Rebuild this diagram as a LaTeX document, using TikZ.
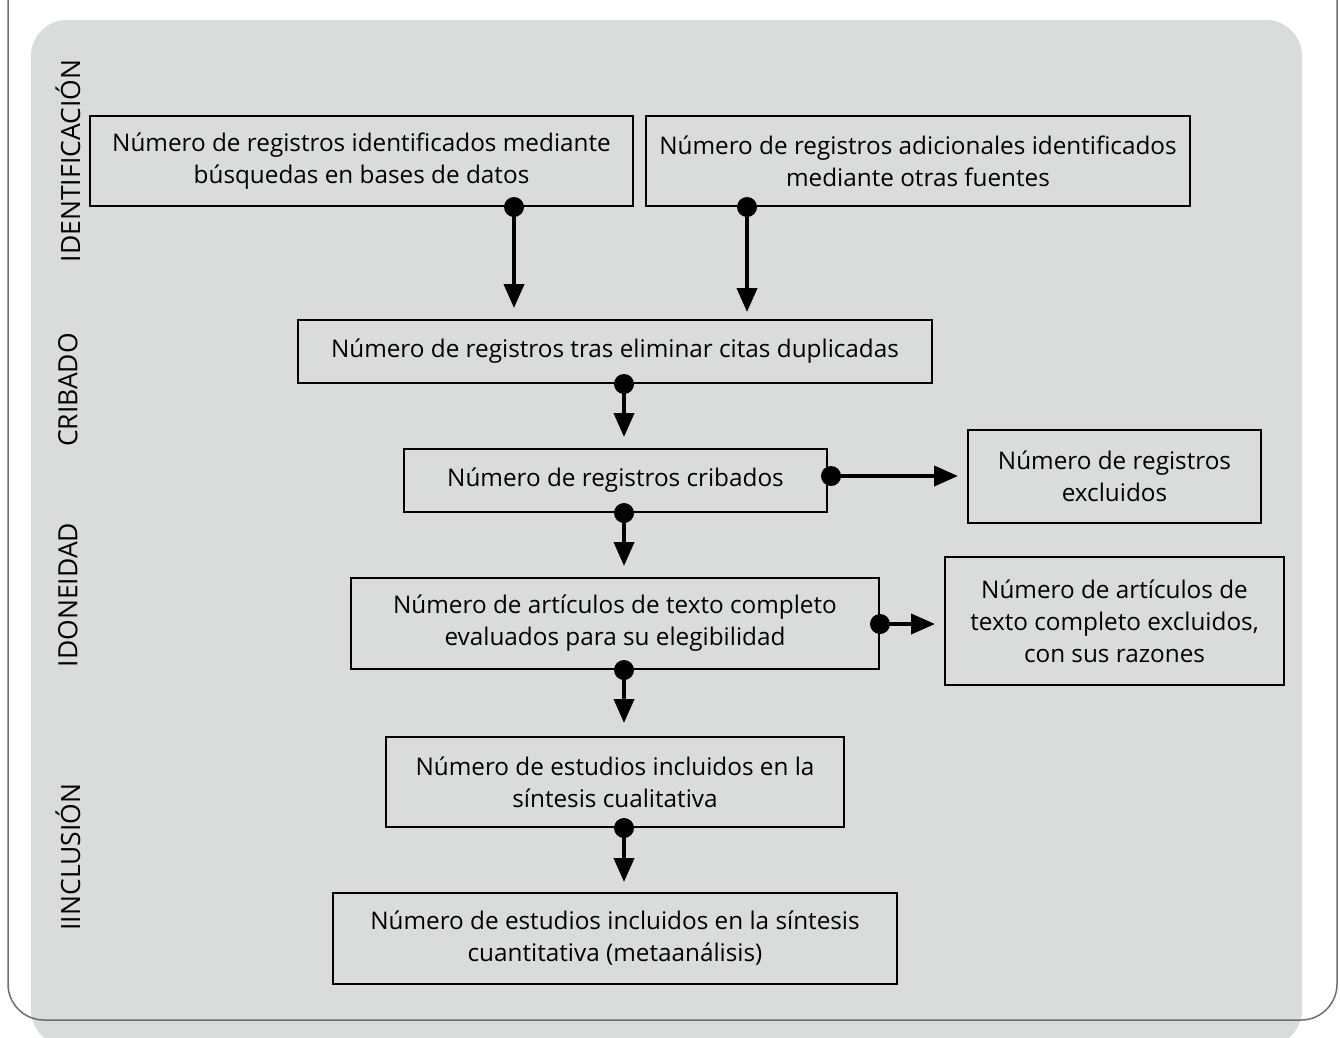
\documentclass[tikz,border=0pt]{standalone}
\usepackage{fontspec}
\setmainfont{Open Sans}
\usetikzlibrary{arrows.meta}
\definecolor{panel}{RGB}{218,219,219}
\definecolor{frame}{RGB}{110,110,110}
\begin{document}
\begin{tikzpicture}[x=1pt,y=-1pt,
  box/.style={draw=black, line width=2pt, align=center, inner sep=0pt,
    font=\fontsize{24.3}{32}\selectfont},
  side/.style={rotate=90, font=\fontsize{26.5}{30}\selectfont, inner sep=0pt},
  conn/.style={line width=4pt, -{Triangle[length=24pt,width=20pt]}},
  dot/.style={fill=black}]
\useasboundingbox (0,0) rectangle (1340,1037);
\clip (0,0) rectangle (1340,1037);
% panel
\fill[panel, rounded corners=36pt] (31,20) rectangle (1302,1046);
% frame
\draw[frame, line width=1.5pt, rounded corners=36pt] (8,-10) -- (8,1020) -- (1337,1020) -- (1337,-10);
% side labels
\node[side] (s1) at (68,161) {IDENTIFICACIÓN};
\node[side] (s2) at (68,390) {CRIBADO};
\node[side] (s3) at (68,595) {IDONEIDAD};
\node[side] (s4) at (68,857) {IINCLUSIÓN};
% boxes
\node[box, minimum width=543pt, minimum height=90pt] (b1) at (361.5,161) {Número de registros identificados mediante\\búsquedas en bases de datos};
\node[box, minimum width=544pt, minimum height=90pt] (b2) at (918,161) {Número de registros adicionales identificados\\mediante otras fuentes};
\node[box, minimum width=634pt, minimum height=63pt] (b3) at (615,351.5) {Número de registros tras eliminar citas duplicadas};
\node[box, minimum width=423pt, minimum height=63pt] (b4) at (615.5,480.5) {Número de registros cribados};
\node[box, minimum width=293pt, minimum height=93pt] (b5) at (1114.5,476.5) {Número de registros\\excluidos};
\node[box, minimum width=528pt, minimum height=91pt] (b6) at (615,623.5) {Número de artículos de texto completo\\evaluados para su elegibilidad};
\node[box, minimum width=339pt, minimum height=128pt] (b7) at (1114.5,621) {Número de artículos de\\texto completo excluidos,\\con sus razones};
\node[box, minimum width=458pt, minimum height=90pt] (b8) at (615,782) {Número de estudios incluidos en la\\síntesis cualitativa};
\node[box, minimum width=564pt, minimum height=91pt] (b9) at (615,938.5) {Número de estudios incluidos en la síntesis\\cuantitativa (metaanálisis)};
% arrow ends
\coordinate (t1) at (514,308);
\coordinate (t2) at (747,312);
\coordinate (t3) at (624,437);
\coordinate (t4) at (958,476);
\coordinate (t5) at (624,566);
\coordinate (t6) at (935,624);
\coordinate (t7) at (624,723);
\coordinate (t8) at (624,882);
% connectors
\draw[conn] (t1 |- b1.south) -- (t1);
\fill[dot] (t1 |- b1.south) circle (10pt);
\draw[conn] (t2 |- b2.south) -- (t2);
\fill[dot] (t2 |- b2.south) circle (10pt);
\draw[conn] (t3 |- b3.south) -- (t3);
\fill[dot] (t3 |- b3.south) circle (10pt);
\draw[conn] (b4.east |- t4) -- (t4);
\fill[dot] ([xshift=3pt]b4.east |- t4) circle (10pt);
\draw[conn] (t5 |- b4.south) -- (t5);
\fill[dot] (t5 |- b4.south) circle (10pt);
\draw[conn] (b6.east |- t6) -- (t6);
\fill[dot] (b6.east |- t6) circle (10pt);
\draw[conn] (t7 |- b6.south) -- (t7);
\fill[dot] (t7 |- b6.south) circle (10pt);
\draw[conn] (t8 |- b8.south) -- (t8);
\fill[dot] (t8 |- b8.south) circle (10pt);
\end{tikzpicture}
\end{document}
